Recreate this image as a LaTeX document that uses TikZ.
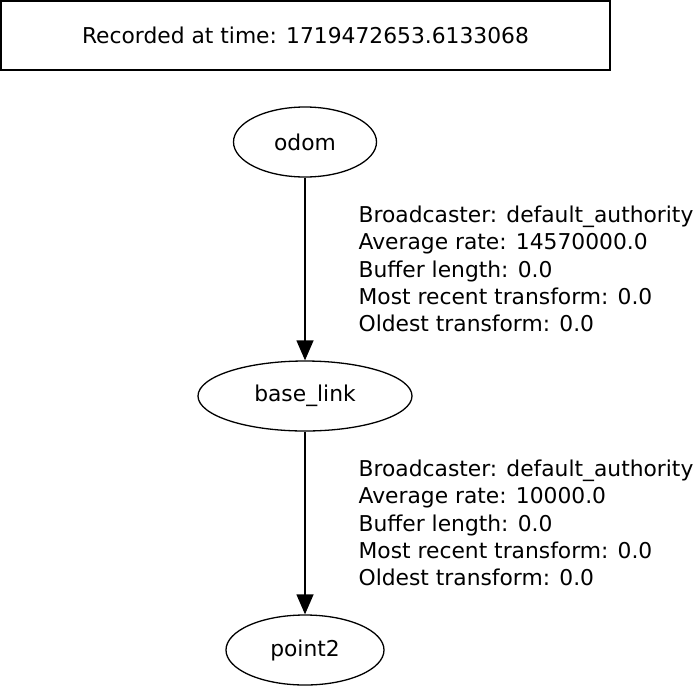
\documentclass[tikz,border=0pt]{standalone}
\usepackage{fontspec}
\setmainfont{DejaVu Sans}
\usetikzlibrary{positioning,arrows.meta,shapes.geometric}
\tikzset{
	frame/.style={%
		draw, line width=1.3pt, ellipse, inner sep=0pt,
		minimum height=70pt,
		minimum width=#1
	},
	frame/.default=150pt,
	info/.style={anchor=west, xshift=53pt, inner sep=0pt, align=left,
		font=\fontsize{21.8}{27.4}\selectfont},
	>={Triangle[length=20pt,width=17pt]}
}

\begin{document}
\begin{tikzpicture}[x=1pt,y=-1pt,line width=1.3pt,
		font=\fontsize{21.8}{27.4}\selectfont]
		\useasboundingbox (0,0) rectangle (693,686);
		
		% header box
		\node (stamp) at (305.5,35.5) [draw,minimum width=609pt,minimum height=69pt,inner sep=0pt] {Recorded at time: 1719472653.6133068};
		
		% frames
		\node[frame=143pt] (odom) at (305,142) {odom};
		\node[frame=214pt] (baselink) at (305,396) {base\_link};
		\node[frame=158pt] (point2) at (305,650) {point2};
		
		%transforms between frames
		\draw[->] (odom) -- node[info] {Broadcaster: default\_authority\\Average rate: 14570000.0\\Buffer length: 0.0\\Most recent transform: 0.0\\Oldest transform: 0.0} (baselink);
		
		\draw[->] (baselink) -- node[info] {Broadcaster: default\_authority\\Average rate: 10000.0\\Buffer length: 0.0\\Most recent transform: 0.0\\Oldest transform: 0.0} (point2);
		
\end{tikzpicture}
\end{document}
